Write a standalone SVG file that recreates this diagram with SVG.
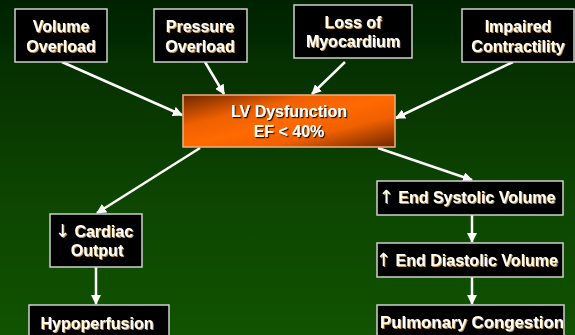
<svg xmlns="http://www.w3.org/2000/svg" width="575" height="335" viewBox="0 0 575 335">
<defs>
<linearGradient id="bg" x1="0" y1="0" x2="0" y2="1">
<stop offset="0" stop-color="#002200"/>
<stop offset="0.13" stop-color="#002a00"/>
<stop offset="0.15" stop-color="#052e00"/>
<stop offset="0.6" stop-color="#0d4600"/>
<stop offset="1" stop-color="#105300"/>
</linearGradient>
<linearGradient id="lv" x1="0" y1="0" x2="1" y2="1">
<stop offset="0" stop-color="#6e2600"/>
<stop offset="0.3" stop-color="#f06000"/>
<stop offset="0.5" stop-color="#ff6a00"/>
<stop offset="0.7" stop-color="#f06000"/>
<stop offset="1" stop-color="#6e2600"/>
</linearGradient>
<filter id="gold" x="-5%" y="-20%" width="115%" height="150%">
<feDropShadow dx="1" dy="1" stdDeviation="0" flood-color="#c89a2a"/>
</filter>
<filter id="dark" x="-5%" y="-20%" width="115%" height="150%">
<feDropShadow dx="1.2" dy="1.2" stdDeviation="0.3" flood-color="#2a1000"/>
</filter>
<marker id="ah" viewBox="0 0 10 10" refX="9" refY="5" markerWidth="4" markerHeight="4" orient="auto" markerUnits="strokeWidth">
<path d="M0,0 L10,5 L0,10 Z" fill="#ffffff"/>
</marker>
<style>
.box{fill:#000000;stroke:#d0d0d0;stroke-width:1.5}
.t{font-family:"Liberation Sans",Arial,sans-serif;font-weight:bold;font-size:16px;fill:#ffffff;text-anchor:middle;filter:url(#gold)}
.tl{font-family:"Liberation Sans",Arial,sans-serif;font-weight:bold;font-size:16px;fill:#ffffff;text-anchor:middle;filter:url(#dark)}
.ar{font-family:"DejaVu Sans",sans-serif;font-weight:normal;font-size:18px}
.c{stroke:#ffffff;stroke-width:2.5;fill:none;marker-end:url(#ah)}
</style>
</defs>
<rect x="0" y="0" width="575" height="335" fill="url(#bg)"/>
<g id="connectors">
<line class="c" x1="62" y1="62" x2="182" y2="115"/>
<line class="c" x1="205" y1="62" x2="224" y2="94"/>
<line class="c" x1="345" y1="62" x2="312" y2="94"/>
<line class="c" x1="513" y1="62" x2="396" y2="118"/>
<line class="c" x1="200" y1="148" x2="97" y2="213"/>
<line class="c" x1="378" y1="148" x2="472" y2="180"/>
<line class="c" x1="96" y1="267" x2="96" y2="304"/>
<line class="c" x1="472" y1="215" x2="472" y2="242"/>
<line class="c" x1="472" y1="277" x2="472" y2="304"/>
</g>
<g id="volume-overload">
<rect class="box" x="15" y="9" width="92" height="53"/>
<text class="t" x="61" y="32">Volume</text>
<text class="t" x="61" y="52">Overload</text>
</g>
<g id="pressure-overload">
<rect class="box" x="154" y="9" width="93" height="53"/>
<text class="t" x="200" y="32">Pressure</text>
<text class="t" x="200" y="52">Overload</text>
</g>
<g id="loss-of-myocardium">
<rect class="box" x="294" y="5" width="118" height="53"/>
<text class="t" x="353" y="28">Loss of</text>
<text class="t" x="353" y="47">Myocardium</text>
</g>
<g id="impaired-contractility">
<rect class="box" x="462" y="9" width="112" height="53"/>
<text class="t" x="518" y="32">Impaired</text>
<text class="t" x="518" y="52">Contractility</text>
</g>
<g id="lv-dysfunction">
<rect x="183" y="95" width="212" height="52" fill="url(#lv)" stroke="#f0b080" stroke-width="1.5"/>
<text class="tl" x="289" y="117">LV Dysfunction</text>
<text class="tl" x="289" y="137">EF &lt; 40%</text>
</g>
<g id="cardiac-output">
<rect class="box" x="50" y="214" width="92" height="53"/>
<text class="t" x="94" y="237"><tspan class="ar">↓</tspan> Cardiac</text>
<text class="t" x="97" y="256">Output</text>
</g>
<g id="hypoperfusion">
<rect class="box" x="29" y="305" width="140" height="40"/>
<text class="t" x="97" y="329">Hypoperfusion</text>
</g>
<g id="end-systolic-volume">
<rect class="box" x="377" y="181" width="186" height="34"/>
<text class="t" x="467" y="203"><tspan class="ar">↑</tspan> End Systolic Volume</text>
</g>
<g id="end-diastolic-volume">
<rect class="box" x="377" y="243" width="186" height="34"/>
<text class="t" x="467" y="266"><tspan class="ar">↑</tspan> End Diastolic Volume</text>
</g>
<g id="pulmonary-congestion">
<rect class="box" x="377" y="305" width="187" height="40"/>
<text class="t" x="472" y="328" textLength="184" lengthAdjust="spacingAndGlyphs">Pulmonary Congestion</text>
</g>
</svg>
